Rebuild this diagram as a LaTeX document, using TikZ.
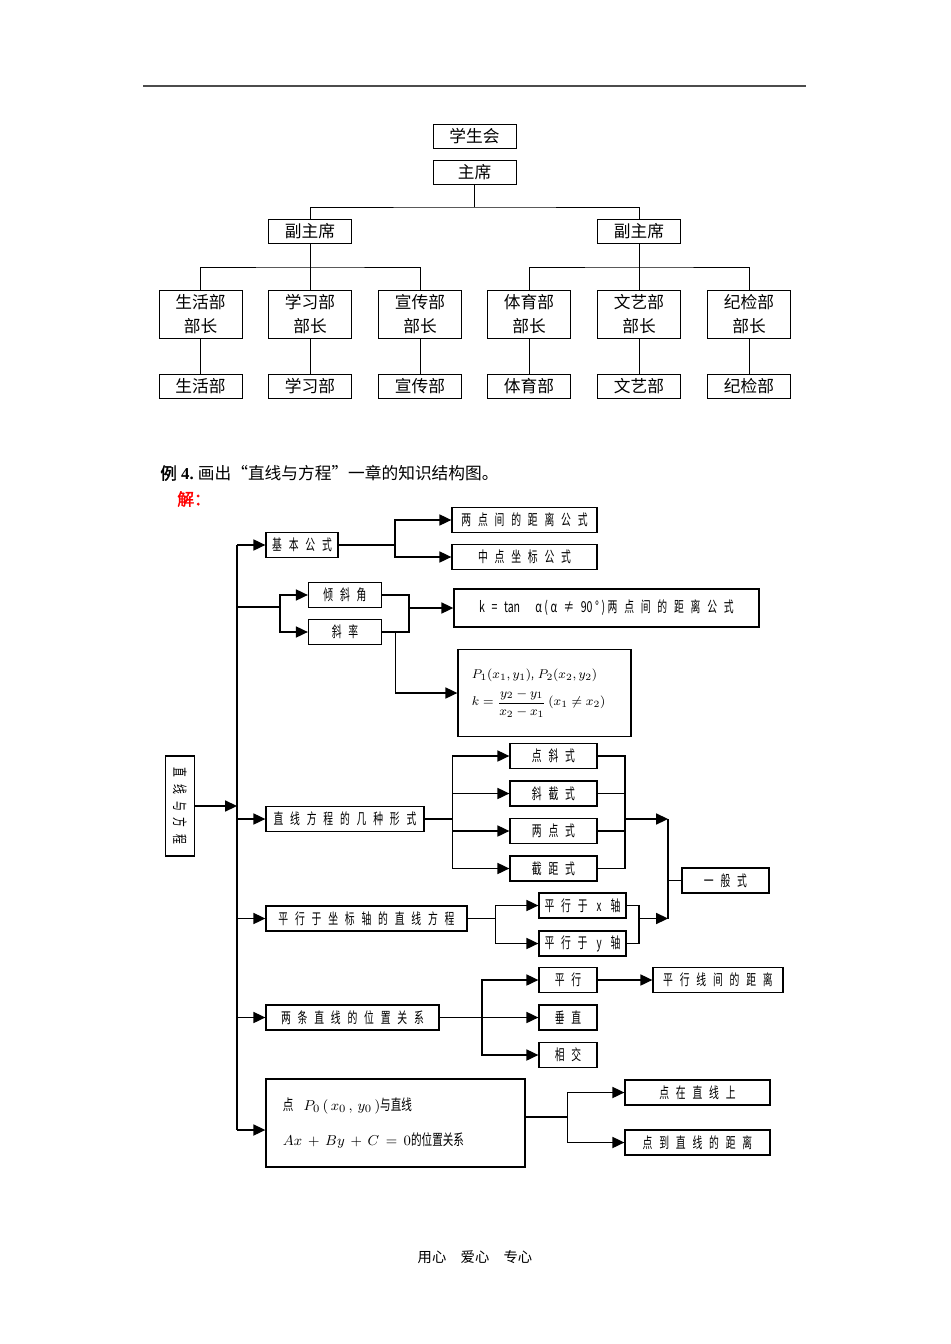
\documentclass[tikz,border=0pt]{standalone}
\usepackage{amsmath}
\usepackage{fontspec}
\setmainfont{Liberation Serif}
\newfontfamily\cjk{Noto Sans CJK SC}
\newfontfamily\cjkbold[FakeBold=2]{Noto Sans CJK SC}
\newfontfamily\kfont[FakeStretch=0.65,LetterSpace=45]{Noto Sans CJK SC}
\newfontfamily\knarrow[FakeStretch=0.7]{Noto Sans CJK SC}
\usetikzlibrary{arrows.meta}
\newcommand\pxu{0.6289pt}

\begin{document}
\begin{tikzpicture}[
    x=0.0221cm, y=-0.0221cm,
    obox/.style = {draw, line width=0.6pt, minimum width=83*\pxu, minimum height=24*\pxu,
                   inner sep=0pt, align=center, font=\cjk\fontsize{10.5}{15}\selectfont},
    kbox/.style = {draw, line width=0.8pt, minimum height=25*\pxu, inner sep=0pt,
                   font=\kfont\fontsize{9.5}{11}\selectfont},
    kw/.style   = {minimum width=#1*\pxu},
    oln/.style  = {line width=0.6pt},
    ln/.style   = {line width=0.8pt},
    arr/.style  = {-{Triangle[length=7.5pt,width=7pt]}, line width=0.8pt},
  ]
    \useasboundingbox (0,0) rectangle (950,1344);
    \draw[black!70, line width=0.8pt] (143,86) -- (806,86);

    \node[obox] (xsh) at (474.5,136) {学生会};
    \node[obox] (zx)  at (474.5,172) {主席};
    \node[obox] (fz1) at (310,231)   {副主席};
    \node[obox] (fz2) at (639,231)   {副主席};
    \foreach \n/\x/\t in {1/200.5/生活部, 2/310/学习部, 3/420/宣传部,
                          4/529/体育部, 5/639/文艺部, 6/749/纪检部}{
      \node[obox, minimum height=48*\pxu] (bz\n) at (\x,314) {\t\\部长};
      \node[obox] (b\n) at (\x,386) {\t};
      \draw[oln] (bz\n) -- (b\n);
    }
    \coordinate (j0) at (474.5,207);
    \coordinate (j1) at (310,267);
    \coordinate (j2) at (639,267);
    \draw[oln] (zx) -- (j0);
    \draw[oln] (fz1.north) |- (j0) -| (fz2.north);
    \draw[oln] (fz1) -- (bz2);
    \draw[oln] (bz1.north) |- (j1) -| (bz3.north);
    \draw[oln] (fz2) -- (bz5);
    \draw[oln] (bz4.north) |- (j2) -| (bz6.north);

    \node[anchor=west, inner sep=0pt, font=\fontsize{10.5}{13}\selectfont] (li4) at (160,473)
      {{\cjkbold 例}\textbf{ 4.}\ {\cjk 画出“直线与方程”一章的知识结构图。}};
    \node[anchor=west, inner sep=0pt, text=red, font=\cjkbold\fontsize{10.5}{13}\selectfont]
      (jie) at (177,499) {解：};

    \node[kbox, kw=29, minimum height=100*\pxu] (root) at (180,806) {\rotatebox{-90}{直线与方程}};
    \node[kbox, kw=72]  (jbgs)  at (302,545)   {基本公式};
    \node[kbox, kw=145] (lddis) at (524.5,520) {两点间的距离公式};
    \node[kbox, kw=145] (zdzb)  at (524.5,557) {中点坐标公式};
    \node[kbox, kw=73]  (qxj)   at (345,595)   {倾斜角};
    \node[kbox, kw=73]  (xl)    at (345,632)   {斜率};
    \node[kbox, kw=305, minimum height=38*\pxu] (ktan) at (606.5,608)
      {{\knarrow k\; =\; tan\quad α\,(\,α\; ≠\; 90\,°\,)\,}两点间的距离公式};
    \node[kbox, kw=173, minimum height=87*\pxu, text width=145*\pxu, align=left,
          font=\knarrow\fontsize{8}{10}\selectfont] (pform) at (544.5,693)
      {$P_1(x_1,y_1)$, $P_2(x_2,y_2)$\\[4pt]$k=\dfrac{y_2-y_1}{x_2-x_1}\,(x_1\neq x_2)$};
    \node[kbox, kw=158] (jzfc)  at (345,819)    {直线方程的几种形式};
    \node[kbox, kw=87]  (dx)    at (553.5,756)  {点斜式};
    \node[kbox, kw=87]  (xj)    at (553.5,793.5){斜截式};
    \node[kbox, kw=87]  (ld)    at (553.5,831)  {两点式};
    \node[kbox, kw=87]  (jj)    at (553.5,868.5){截距式};
    \node[kbox, kw=87]  (ybs)   at (725.5,880.5){一般式};
    \node[kbox, kw=201] (pxzb)  at (366.5,918.5){平行于坐标轴的直线方程};
    \node[kbox, kw=87]  (px)    at (582.5,905.5){平行于 x 轴};
    \node[kbox, kw=87]  (py)    at (582.5,943.5){平行于 y 轴};
    \node[kbox, kw=173] (lzx)   at (352.5,1017.5){两条直线的位置关系};
    \node[kbox, kw=58]  (pxing) at (568,980)    {平行};
    \node[kbox, kw=58]  (cz)    at (568,1017.5) {垂直};
    \node[kbox, kw=58]  (xj2)   at (568,1055)   {相交};
    \node[kbox, kw=130] (pxjl)  at (718,980)    {平行线间的距离};
    \node[kbox, kw=259, minimum height=88*\pxu, text width=225*\pxu, align=left,
          font=\knarrow\fontsize{9.5}{22}\selectfont] (dyzx) at (395.5,1123)
      {点\ \ $P_0\,(\,x_0\,,\,y_0\,)$与直线\\$Ax\,+\,By\,+\,C\,=\,0$的位置关系};
    \node[kbox, kw=145] (dzs)   at (697.5,1092.5){点在直线上};
    \node[kbox, kw=145] (ddj)   at (697.5,1142.5){点到直线的距离};

    \coordinate (tt) at (237,545);
    \coordinate (tb) at (237,1130);
    \coordinate (sx) at (280,607);
    \coordinate (jb) at (395,545);
    \coordinate (kr) at (409,608);
    \coordinate (xd) at (395.5,632);
    \coordinate (fl) at (452.7,819);
    \coordinate (fr) at (625,819);
    \coordinate (yb) at (668,880.5);
    \coordinate (pl) at (495.7,918.5);
    \coordinate (pr) at (639,918.5);
    \coordinate (wl) at (482,1017.5);
    \coordinate (dr) at (567.7,1117);

    \draw[ln] (tt) -- (tb);
    \draw[arr] (root) -- (tt |- root);
    \draw[arr] (tt) -- (jbgs);
    \draw[ln] (tt |- sx) -- (sx);
    \draw[arr] (sx) |- (qxj);
    \draw[arr] (sx) |- (xl);
    \draw[arr] (tt |- jzfc) -- (jzfc);
    \draw[arr] (tt |- pxzb) -- (pxzb);
    \draw[arr] (tt |- lzx) -- (lzx);
    \draw[arr] (tb) -- (tb -| dyzx.west);

    \draw[ln] (jbgs) -- (jb);
    \draw[arr] (jb) |- (lddis);
    \draw[arr] (jb) |- (zdzb);
    \draw[ln] (qxj.east) -| (kr);
    \draw[ln] (xl.east) -| (kr);
    \draw[arr] (kr) -- (ktan);
    \draw[arr] (xd) |- (pform);

    \draw[ln] (jzfc) -- (fl);
    \foreach \b in {dx, xj, ld, jj}{
      \draw[arr] (fl) |- (\b);
      \draw[ln] (\b.east) -| (fr);
    }
    \draw[arr] (fr) -- (yb |- fr);
    \draw[ln] (pxzb) -- (pl);
    \draw[arr] (pl) |- (px);
    \draw[arr] (pl) |- (py);
    \draw[ln] (px.east) -| (pr);
    \draw[ln] (py.east) -| (pr);
    \draw[arr] (pr) -- (yb |- pr);
    \draw[ln] (yb |- fr) -- (yb |- pr);
    \draw[ln] (yb) -- (ybs);

    \draw[ln] (lzx) -- (wl);
    \draw[arr] (wl) |- (pxing);
    \draw[arr] (wl) -- (cz);
    \draw[arr] (wl) |- (xj2);
    \draw[arr] (pxing) -- (pxjl);

    \draw[ln] (dyzx.east |- dr) -- (dr);
    \draw[arr] (dr) |- (dzs);
    \draw[arr] (dr) |- (ddj);

    \node[font=\cjk\fontsize{9}{11}\selectfont] (foot) at (475,1257) {用心\quad 爱心\quad 专心};
  \end{tikzpicture}
\end{document}
